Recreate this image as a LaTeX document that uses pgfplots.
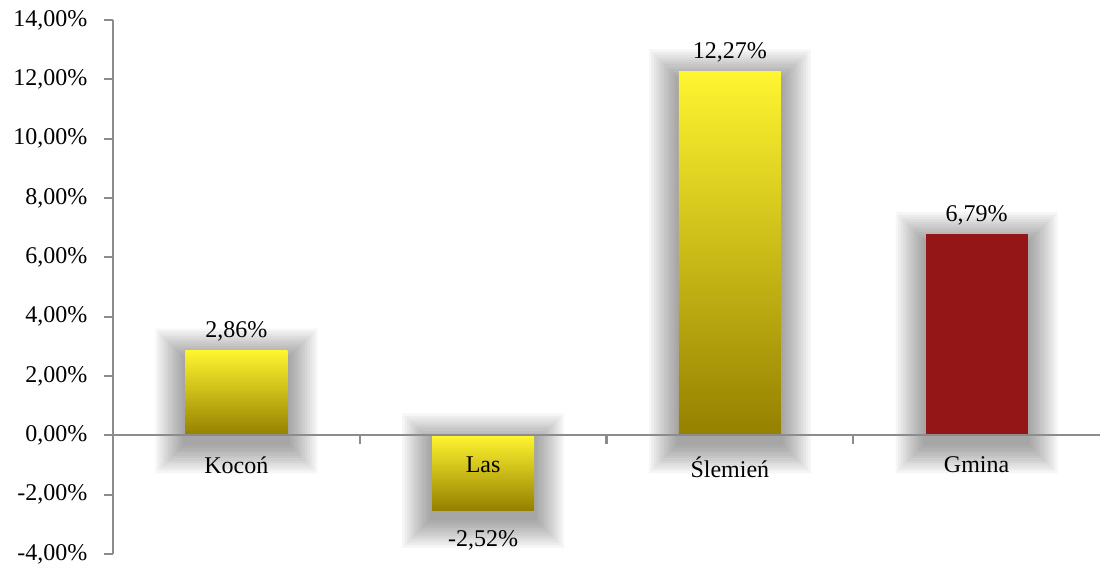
\documentclass[border=0pt]{standalone}
\usepackage{pgfplots}
\pgfplotsset{compat=1.18}
\usepackage{fontspec}
\setmainfont{Liberation Serif}
\usetikzlibrary{calc}
\definecolor{ytop}{HTML}{FFF530}
\definecolor{ymid}{HTML}{E3C900}
\definecolor{ybot}{HTML}{958000}
\definecolor{gred}{HTML}{941616}
\definecolor{axgray}{HTML}{8C8C8C}
\pgfplotsset{
  shadowlayer/.style={bar shift=0pt, draw=none, fill=black, fill opacity=0.036, forget plot, bar width=#1},
  pctlabel/.style={
    nodes near coords={\pgfmathprintnumber[assume math mode=true,fixed,fixed zerofill,precision=2,use comma]{\pgfplotspointmeta}\%},
    every node near coord/.append style={font=\fontsize{24}{28}\selectfont, black, inner sep=9pt}},
  ybarstyle/.style={bar shift=0pt, bar width=102pt, draw=none, top color=ytop, middle color=ymid, bottom color=ybot, pctlabel},
}
\begin{document}
\fontsize{24}{28}\selectfont
\begin{tikzpicture}
\begin{axis}[
  name=ax,
  scale only axis, width=987pt, height=534pt,
  ybar, axis on top,
  xmin=-0.5, xmax=3.5, ymin=-4, ymax=14,
  axis x line=middle, axis y line=left,
  axis line style={axgray, line width=2.2pt, -},
  xtick={0,1,2,3}, xticklabels={Kocoń,Las,Ślemień,Gmina},
  minor xtick={0.5,1.5,2.5},
  x tick label style={anchor=north, yshift=-9pt},
  major x tick style={draw=none},
  minor tick length=9pt,
  minor x tick style={axgray, line width=2.2pt, yshift=-4.5pt},
  ytick={-4,-2,...,14},
  major tick length=9pt,
  y tick style={axgray, line width=2.2pt, xshift=-4.5pt},
  y tick label style={xshift=-13pt},
  yticklabel={\pgfmathprintnumber[assume math mode=true,fixed,fixed zerofill,precision=2,use comma]{\tick}\%},
  tick label style={font=\fontsize{24}{28}\selectfont},
  clip=false,
]
% soft shadow, built from widening translucent bars
\addplot[shadowlayer=107pt] coordinates {(0,2.68)(0,-0.35)(1,-0.18)(1,-2.87)(2,12.09)(2,-0.35)(3,6.61)(3,-0.35)};
\addplot[shadowlayer=112pt] coordinates {(0,2.76)(0,-0.44)(1,-0.10)(1,-2.96)(2,12.17)(2,-0.44)(3,6.69)(3,-0.44)};
\addplot[shadowlayer=117pt] coordinates {(0,2.84)(0,-0.52)(1,-0.02)(1,-3.04)(2,12.25)(2,-0.52)(3,6.77)(3,-0.52)};
\addplot[shadowlayer=122pt] coordinates {(0,2.93)(0,-0.60)(1,0.07)(1,-3.12)(2,12.34)(2,-0.60)(3,6.86)(3,-0.60)};
\addplot[shadowlayer=127pt] coordinates {(0,3.01)(0,-0.69)(1,0.15)(1,-3.21)(2,12.42)(2,-0.69)(3,6.94)(3,-0.69)};
\addplot[shadowlayer=132pt] coordinates {(0,3.10)(0,-0.77)(1,0.24)(1,-3.29)(2,12.51)(2,-0.77)(3,7.03)(3,-0.77)};
\addplot[shadowlayer=137pt] coordinates {(0,3.18)(0,-0.86)(1,0.32)(1,-3.38)(2,12.59)(2,-0.86)(3,7.11)(3,-0.86)};
\addplot[shadowlayer=142pt] coordinates {(0,3.26)(0,-0.94)(1,0.40)(1,-3.46)(2,12.67)(2,-0.94)(3,7.19)(3,-0.94)};
\addplot[shadowlayer=147pt] coordinates {(0,3.35)(0,-1.02)(1,0.49)(1,-3.54)(2,12.76)(2,-1.02)(3,7.28)(3,-1.02)};
\addplot[shadowlayer=152pt] coordinates {(0,3.43)(0,-1.11)(1,0.57)(1,-3.63)(2,12.84)(2,-1.11)(3,7.36)(3,-1.11)};
\addplot[shadowlayer=157pt] coordinates {(0,3.51)(0,-1.19)(1,0.65)(1,-3.71)(2,12.92)(2,-1.19)(3,7.44)(3,-1.19)};
\addplot[shadowlayer=162pt] coordinates {(0,3.60)(0,-1.28)(1,0.74)(1,-3.80)(2,13.01)(2,-1.28)(3,7.53)(3,-1.28)};
% bars, one plot each so every bar gets its own gradient
\addplot[ybarstyle] coordinates {(0,2.86)};
\addplot[ybarstyle, every node near coord/.append style={yshift=-11pt}] coordinates {(1,-2.52)};
\addplot[ybarstyle] coordinates {(2,12.27)};
\addplot[bar shift=0pt, bar width=102pt, draw=none, fill=gred, pctlabel] coordinates {(3,6.79)};
\end{axis}
% page frame, with room for the lowest tick label
\pgfresetboundingbox
\path ($(ax.south west)+(-113pt,-13pt)$) rectangle ($(ax.north east)+(2pt,20pt)$);
\end{tikzpicture}
\end{document}
